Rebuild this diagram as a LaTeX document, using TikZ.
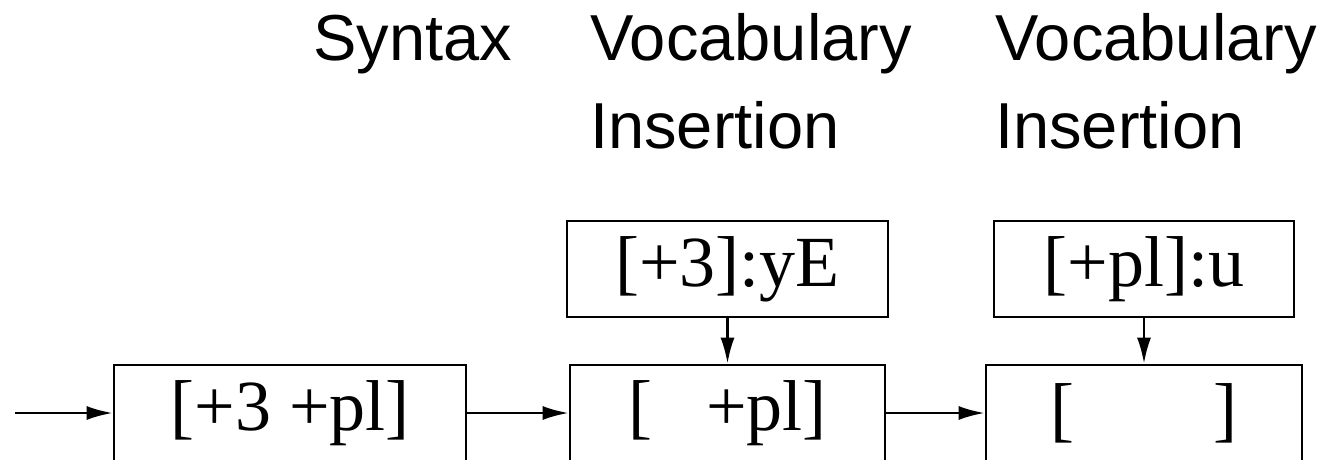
\documentclass[tikz,border=0pt]{standalone}
\usepackage{fontspec}
\setmainfont{Liberation Serif}
\setsansfont{Liberation Sans}
\usetikzlibrary{arrows.meta}
\tikzset{
  box/.style={draw, line width=2.7pt, minimum height=96pt, inner sep=0pt,
    font=\fontsize{72}{86}\selectfont},
  head/.style={inner sep=0pt, align=left, anchor=base west,
    font=\sffamily\fontsize{65}{88}\selectfont},
  arr/.style={line width=2.5pt, -{Latex[length=26pt,width=14pt]}}
}
\begin{document}
\begin{tikzpicture}[x=1pt,y=-1pt]
\useasboundingbox (0,0) rectangle (1318,459);
\node[head] (h1) at (313,60) {Syntax};
\node[head] (h2) at (590,148) {Vocabulary\\Insertion};
\node[head] (h3) at (995,148) {Vocabulary\\Insertion};
\node[box, minimum width=352pt] (b1) at (290,413) {[+3 +pl]};
\node[box, minimum width=315pt] (b2) at (727.5,413) {[\hspace{0.75em}+pl]};
\node[box, minimum width=316pt] (b3) at (1144,413) {[\hspace{1.93em}]};
\node[box, minimum width=321pt] (t1) at (727.5,269) {[+3]:yE};
\node[box, minimum width=300pt] (t2) at (1144,269) {[+pl]:u};
\coordinate (in) at (15,413);
\draw[arr] (in) -- (b1.west);
\draw[arr] (b1.east) -- (b2.west);
\draw[arr] (b2.east) -- (b3.west);
\draw[arr] (t1.south) -- (b2.north);
\draw[arr] (t2.south) -- (b3.north);
\end{tikzpicture}
\end{document}
